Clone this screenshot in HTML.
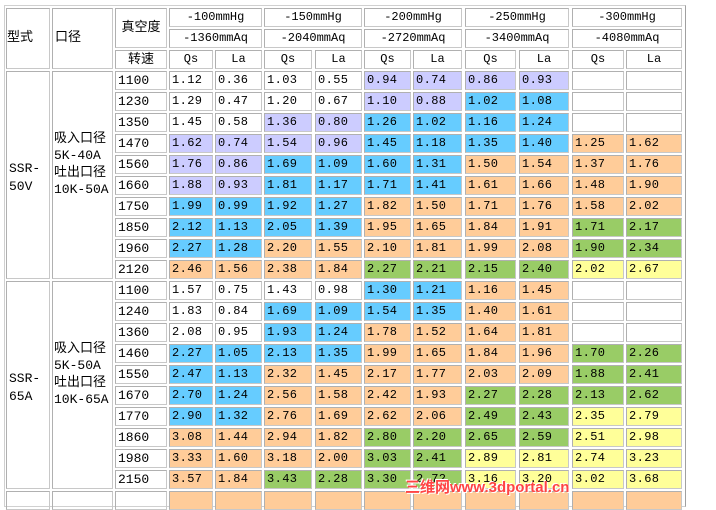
<!DOCTYPE html>
<html><head><meta charset="utf-8">
<style>
body{margin:0;width:716px;height:494px;background:#fff;overflow:hidden;position:relative;font-family:"Liberation Mono","Noto Sans CJK SC",monospace;}
#frame{position:absolute;left:4px;top:5px;width:680px;height:500px;border:1px solid #d0d0d0;border-right-color:#a0a0a0;}
.c{position:absolute;box-sizing:border-box;border:1px solid #c8c8c8;border-top-color:#b0b0b0;border-left-color:#b0b0b0;font-size:12px;line-height:17px;color:#000;white-space:nowrap;overflow:hidden;}
.n{padding-left:2px;letter-spacing:0.4px;}
.r{padding-left:2px;font-size:13px;}
.h{text-align:center;}
.cj{font-family:"Liberation Mono","Noto Sans CJK SC",monospace;font-size:13px;}
#wm{position:absolute;left:405px;top:476px;font:bold 15px "Liberation Sans","Noto Sans CJK SC",sans-serif;color:#f44;text-shadow:1px 1px 0 #fff,-1px -1px 0 #fff;}
</style></head><body>
<div id="frame"></div>
<div id="root"></div>
<div id="wm">三维网www.3dportal.cn</div>
<script>
const vacuumHg=["-100mmHg","-150mmHg","-200mmHg","-250mmHg","-300mmHg"];
const vacuumAq=["-1360mmAq","-2040mmAq","-2720mmAq","-3400mmAq","-4080mmAq"];
const rpm50=[1100,1230,1350,1470,1560,1660,1750,1850,1960,2120];
const vals50=[
["1.12","0.36","1.03","0.55","0.94","0.74","0.86","0.93","",""],
["1.29","0.47","1.20","0.67","1.10","0.88","1.02","1.08","",""],
["1.45","0.58","1.36","0.80","1.26","1.02","1.16","1.24","",""],
["1.62","0.74","1.54","0.96","1.45","1.18","1.35","1.40","1.25","1.62"],
["1.76","0.86","1.69","1.09","1.60","1.31","1.50","1.54","1.37","1.76"],
["1.88","0.93","1.81","1.17","1.71","1.41","1.61","1.66","1.48","1.90"],
["1.99","0.99","1.92","1.27","1.82","1.50","1.71","1.76","1.58","2.02"],
["2.12","1.13","2.05","1.39","1.95","1.65","1.84","1.91","1.71","2.17"],
["2.27","1.28","2.20","1.55","2.10","1.81","1.99","2.08","1.90","2.34"],
["2.46","1.56","2.38","1.84","2.27","2.21","2.15","2.40","2.02","2.67"]];
const colors50=["WWLLW","WWLBW","WLBBW","LLBBO","LBBOO","LBBOO","BBOOO","BBOOG","BOOOG","OOGGY"];
const rpm65=[1100,1240,1360,1460,1550,1670,1770,1860,1980,2150];
const vals65=[
["1.57","0.75","1.43","0.98","1.30","1.21","1.16","1.45","",""],
["1.83","0.84","1.69","1.09","1.54","1.35","1.40","1.61","",""],
["2.08","0.95","1.93","1.24","1.78","1.52","1.64","1.81","",""],
["2.27","1.05","2.13","1.35","1.99","1.65","1.84","1.96","1.70","2.26"],
["2.47","1.13","2.32","1.45","2.17","1.77","2.03","2.09","1.88","2.41"],
["2.70","1.24","2.56","1.58","2.42","1.93","2.27","2.28","2.13","2.62"],
["2.90","1.32","2.76","1.69","2.62","2.06","2.49","2.43","2.35","2.79"],
["3.08","1.44","2.94","1.82","2.80","2.20","2.65","2.59","2.51","2.98"],
["3.33","1.60","3.18","2.00","3.03","2.41","2.89","2.81","2.74","3.23"],
["3.57","1.84","3.43","2.28","3.30","2.72","3.16","3.20","3.02","3.68"]];
const colors65=["WWBOW","WBBOW","WBOOW","BBOOG","BOOOG","BOOGG","BOOGY","OOGGY","OOGYY","OGGYY"];
const pal={W:"#ffffff",L:"#ccccff",B:"#66ccff",O:"#ffcc99",G:"#99cc66",Y:"#ffff99"};
const colX=[6,52,115,169,215,264,315,364,413,465,519,572,626];
const colW=[44,61,52,44,47,48,47,47,49,51,50,52,56];
const root=document.getElementById('root');
function rowY(r){return 8+21*r;}
function cell(ci,span,r,rs,txt,cls,bg,name){
  const d=document.createElement('div');
  d.className='c '+cls;
  let w=colX[ci+span-1]+colW[ci+span-1]-colX[ci];
  d.style.left=colX[ci]+'px';d.style.top=rowY(r)+'px';
  d.style.width=w+'px';d.style.height=(21*rs-2)+'px';
  if(bg)d.style.background=bg;
  d.textContent=txt;
  
  
  root.appendChild(d);return d;
}
let a=cell(0,1,0,3,'型式','cj','', 'model-header');a.style.paddingTop='20px';
a=cell(1,1,0,3,'口径','cj','','bore-header');a.style.paddingTop='20px';a.style.paddingLeft='2px';
a=cell(2,1,0,2,'真空度','cj h','','vacuum-header');a.style.paddingTop='10px';
cell(2,1,2,1,'转速','cj h','','speed-header');
for(let g=0;g<5;g++){
  cell(3+2*g,2,0,1,vacuumHg[g],'h','','vacuum-mmhg-header');
  cell(3+2*g,2,1,1,vacuumAq[g],'h','','vacuum-mmaq-header');
  cell(3+2*g,1,2,1,'Qs','h','','qs-header');
  cell(4+2*g,1,2,1,'La','h','','la-header');
}
function group(start,model,bore,rpm,vals,cols,prefix){
  let m=cell(0,1,start,10,'','cj','',prefix+'-model');m.innerHTML=model;m.style.paddingTop='88px';m.style.paddingLeft='2px';m.style.lineHeight='18px';
  let b=cell(1,1,start,10,'','cj','',prefix+'-bore');b.innerHTML=bore;b.style.paddingTop='58px';b.style.paddingLeft='1px';b.style.lineHeight='17px';
  for(let i=0;i<rpm.length;i++){
    cell(2,1,start+i,1,String(rpm[i]),'r','',prefix+'-rpm');
    for(let j=0;j<10;j++){
      cell(3+j,1,start+i,1,vals[i][j],'n',pal[cols[i][j>>1]],prefix+'-value');
    }
  }
}
group(3,'SSR-<br>50V','吸入口径<br>5K-40A<br>吐出口径<br>10K-50A',rpm50,vals50,colors50,'ssr50v');
group(13,'SSR-<br>65A','吸入口径<br>5K-50A<br>吐出口径<br>10K-65A',rpm65,vals65,colors65,'ssr65a');
cell(0,1,23,1,'','','','next-model');cell(1,1,23,1,'','','','next-bore');cell(2,1,23,1,'','','','next-rpm');
for(let j=0;j<10;j++)cell(3+j,1,23,1,'','',pal.O,'next-value');
</script>
</body></html>
